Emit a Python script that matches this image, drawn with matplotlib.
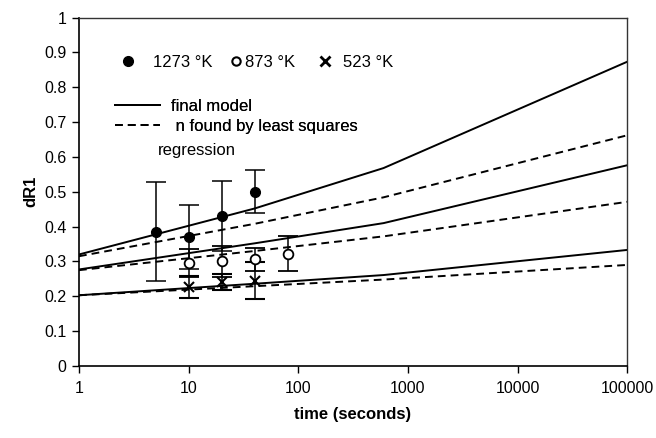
import matplotlib
matplotlib.use("Agg")
import matplotlib.pyplot as plt
from matplotlib.lines import Line2D

plt.rcParams['font.family'] = ['Liberation Sans', 'DejaVu Sans']

# Measured dR1 with error bars at three temperatures
t_1273 = [5, 10, 20, 40]
dr_1273 = [0.385, 0.371, 0.431, 0.500]
err_1273 = [0.142, 0.092, 0.100, 0.062]

t_873 = [10, 20, 40, 80]
dr_873 = [0.295, 0.300, 0.306, 0.322]
err_873 = [0.040, 0.045, 0.032, 0.050]

t_523 = [10, 20, 40]
dr_523 = [0.226, 0.242, 0.245]
err_523 = [0.032, 0.023, 0.053]

# Model curves (final model vs. n from least squares regression)
t_model = [1, 40, 600, 100000]
final_1273 = [0.320, 0.452, 0.568, 0.873]
lsq_1273 = [0.315, 0.408, 0.484, 0.662]
final_873 = [0.277, 0.352, 0.410, 0.576]
lsq_873 = [0.275, 0.330, 0.372, 0.471]
final_523 = [0.203, 0.236, 0.261, 0.333]
lsq_523 = [0.203, 0.229, 0.248, 0.290]

y_ticks = [0, 0.1, 0.2, 0.3, 0.4, 0.5, 0.6, 0.7, 0.8, 0.9, 1.0]
y_ticklabels = ["0", "0.1", "0.2", "0.3", "0.4", "0.5", "0.6", "0.7", "0.8", "0.9", "1"]
x_ticks = [1, 10, 100, 1000, 10000, 100000]
x_ticklabels = ["1", "10", "100", "1000", "10000", "100000"]

fig = plt.figure(figsize=(6.56, 4.38), dpi=100)
ax = fig.add_axes([0.1204, 0.1644, 0.8356, 0.7956])

dash = (0, (4, 2.6))
for final, lsq in [(final_1273, lsq_1273), (final_873, lsq_873), (final_523, lsq_523)]:
    ax.plot(t_model, final, color="black", lw=1.4, solid_joinstyle="round")
    ax.plot(t_model, lsq, color="black", lw=1.4, linestyle=dash)

eb_kw = dict(ecolor="black", elinewidth=1.1, capsize=7, capthick=1.1, linestyle="none")
ax.errorbar(t_1273, dr_1273, yerr=err_1273, marker="o", ms=7, mfc="black",
            mec="black", **eb_kw)
ax.errorbar(t_873, dr_873, yerr=err_873, marker="o", ms=7, mfc="white",
            mec="black", mew=1.3, **eb_kw)
ax.errorbar(t_523, dr_523, yerr=err_523, marker="x", ms=7, mec="black",
            mew=1.5, **eb_kw)

ax.set_xscale("log")
ax.set_xlim(1, 100000)
ax.set_ylim(0, 1)
ax.set_xticks(x_ticks)
ax.set_xticklabels(x_ticklabels)
ax.xaxis.set_minor_locator(matplotlib.ticker.NullLocator())
ax.set_yticks(y_ticks)
ax.set_yticklabels(y_ticklabels)
ax.tick_params(axis="both", labelsize=11.5, length=5, width=1, direction="out",
               colors="black", pad=4)
ax.tick_params(axis="x", pad=6)

for side in ["left", "bottom"]:
    ax.spines[side].set_linewidth(1.2)
for side in ["top", "right"]:
    ax.spines[side].set_linewidth(1.0)
    ax.spines[side].set_color("#333333")

ax.set_xlabel("time (seconds)", fontsize=12, fontweight="bold", labelpad=8)
ax.set_ylabel("dR1", fontsize=12, fontweight="bold", labelpad=4)

# Marker key, one entry per temperature
marker_keys = [
    (Line2D([], [], marker="o", ms=7, mfc="black", mec="black", ls="none"),
     "1273 °K", 0.0626, 1.1),
    (Line2D([], [], marker="o", ms=6, mfc="white", mec="black", mew=1.5, ls="none"),
     "873 °K", 0.259, 0.15),
    (Line2D([], [], marker="x", ms=7, mec="black", mew=2, ls="none"),
     "523 °K", 0.422, 0.68),
]
for handle, label, xpos, pad in marker_keys:
    leg = ax.legend([handle], [label], loc="center left",
                    bbox_to_anchor=(xpos, 0.872), frameon=False, borderpad=0,
                    handlelength=0.8, handletextpad=pad, fontsize=12)
    ax.add_artist(leg)

# Line style key
line_handles = [Line2D([], [], color="black", lw=1.4),
                Line2D([], [], color="black", lw=1.4, linestyle=dash)]
leg2 = ax.legend(line_handles, ["final model", " n found by least squares"],
                 loc="upper left", bbox_to_anchor=(0.051, 0.79), frameon=False,
                 borderpad=0, handlelength=2.7, handletextpad=0.66,
                 labelspacing=0.3, fontsize=12)
ax.add_artist(leg2)
ax.text(0.144, 0.619, "regression", transform=ax.transAxes, fontsize=12,
        ha="left", va="center")

fig.savefig("out.png", dpi=100)
